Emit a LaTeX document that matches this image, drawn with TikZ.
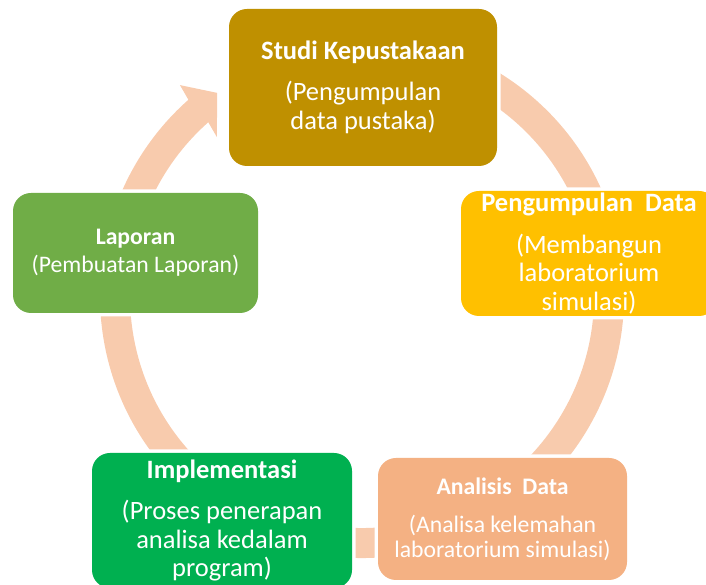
\documentclass[tikz,border=0pt]{standalone}
\usepackage{fontspec}
\setmainfont{Carlito}
\usetikzlibrary{calc}

\definecolor{ringpeach}{HTML}{F8CBAD}
\definecolor{studigold}{HTML}{BF9000}
\definecolor{datagold}{HTML}{FFC000}
\definecolor{laporgreen}{HTML}{70AD47}
\definecolor{implgreen}{HTML}{00B050}
\definecolor{analisapeach}{HTML}{F4B183}

\begin{document}
\begin{tikzpicture}[x=1pt, y=1pt,
  stage/.style={rounded corners=18pt, text=white, align=center, inner sep=0pt,
    preaction={draw=white, line width=7pt}},
  bigtext/.style={font=\fontsize{26.5}{28.5}\selectfont},
  smalltext/.style={font=\fontsize{23.7}{25}\selectfont}]
  \useasboundingbox (0,0) rectangle (706,585);
  \clip (0,0) rectangle (706,585);

  % cycle ring, drawn first so the stages sit on top of it
  \coordinate (c) at (362,289);
  \draw[ringpeach, line width=30pt] ($(c)+(100:247)$) arc[start angle=100, end angle=-228.7, radius=247];
  \fill[ringpeach] ($(c)+(131.5:262)$) -- ($(c)+(130.8:278.6)$) -- ($(c)+(125.5:249.5)$)
    -- ($(c)+(132.4:215.2)$) -- ($(c)+(131.5:232)$) -- cycle;

  \node[stage, bigtext, fill=studigold, minimum width=268pt, minimum height=157pt] (studi) at (363,497.5)
    {\textbf{Studi Kepustakaan}\\[12.5pt] (Pengumpulan\\ data pustaka)};
  \node[stage, bigtext, fill=datagold, minimum width=256pt, minimum height=125pt] (kumpul) at (589,331.5)
    {\textbf{Pengumpulan\ \ Data}\\[13pt] (Membangun\\ laboratorium\\ simulasi)};
  \node[stage, smalltext, fill=analisapeach, minimum width=249pt, minimum height=122pt] (analisis) at (502.5,66)
    {\textbf{Analisis\ \ Data}\\[13pt] (Analisa kelemahan\\ laboratorium simulasi)};
  \node[stage, bigtext, fill=implgreen, minimum width=260pt, minimum height=135pt] (impl) at (222,64.5)
    {\textbf{Implementasi}\\[13pt] (Proses penerapan\\ analisa kedalam\\ program)};
  \node[stage, smalltext, fill=laporgreen, minimum width=245pt, minimum height=120pt] (lapor) at (135.5,332)
    {\textbf{Laporan}\\[3pt] (Pembuatan Laporan)};
\end{tikzpicture}
\end{document}
